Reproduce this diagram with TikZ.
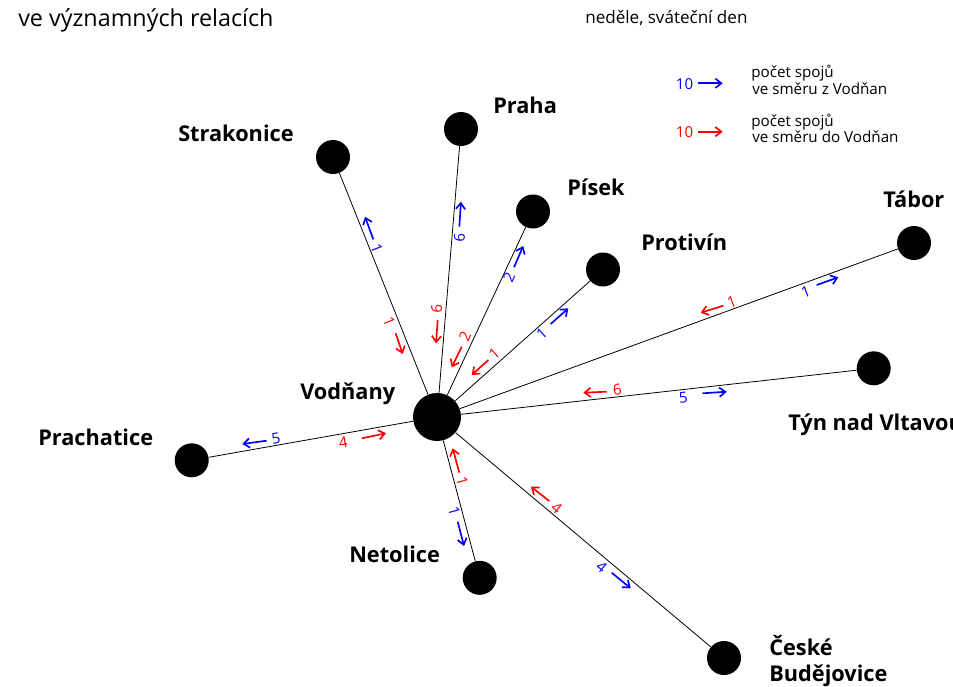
\documentclass[tikz,border=0pt]{standalone}
\usepackage{fontspec}
\setmainfont{Open Sans}
\usetikzlibrary{arrows.meta}
\definecolor{fblue}{RGB}{0,0,255}
\definecolor{fred}{RGB}{255,0,0}
\tikzset{
  hub/.style={circle,fill=black,minimum size=36pt,inner sep=0pt},
  stop/.style={circle,fill=black,minimum size=25.5pt,inner sep=0pt},
  edge/.style={draw=black,line width=0.6pt},
  city/.style={anchor=base west,inner sep=0pt,font=\fontsize{16.3}{20}\selectfont\bfseries},
  num/.style={inner sep=0pt,font=\fontsize{11.3}{13}\selectfont},
  farr/.style={line width=1.25pt,-{Straight Barb[length=4.5pt,width=7pt]}},
  legtxt/.style={anchor=base west,inner sep=0pt,font=\fontsize{11.4}{13}\selectfont},
}
\begin{document}
\begin{tikzpicture}[x=0.75pt,y=-0.75pt]
\useasboundingbox (0,0) rectangle (953,686);
% titles
\node[anchor=base west,inner sep=0pt,font=\fontsize{17.5}{20}\selectfont] (title) at (18,26) {ve významných relacích};
\node[anchor=base west,inner sep=0pt,font=\fontsize{12.8}{15}\selectfont] (day) at (585,23) {neděle, sváteční den};
% legend
\node[num,anchor=base west,text=fblue] (lb10) at (675.7,89.3) {10};
\coordinate (lbA) at (697.7,83.3);
\coordinate (lbB) at (722.7,83.3);
\draw[farr,fblue] (lbA) -- (lbB);
\node[legtxt] (lb1) at (751,77.5) {počet spojů};
\node[legtxt] (lb2) at (752,94.3) {ve směru z Vodňan};
\node[num,anchor=base west,text=fred] (lr10) at (675.7,137.3) {10};
\coordinate (lrA) at (697.7,131.7);
\coordinate (lrB) at (722.7,131.7);
\draw[farr,fred] (lrA) -- (lrB);
\node[legtxt] (lr1) at (751,126) {počet spojů};
\node[legtxt] (lr2) at (752,142.7) {ve směru do Vodňan};
% stops
\node[hub] (V) at (437,417) {};
\node[stop] (S) at (333,157) {};
\node[stop] (P) at (461,129) {};
\node[stop] (Pi) at (533,211.5) {};
\node[stop] (Pr) at (603,269.5) {};
\node[stop] (T) at (914,243) {};
\node[stop] (Ty) at (873.7,368.3) {};
\node[stop] (Pc) at (191.7,460.3) {};
\node[stop] (N) at (479.7,577.8) {};
\node[stop] (CB) at (724,658) {};
% edges
\foreach \d in {S,P,Pi,Pr,T,Ty,Pc,N,CB} \draw[edge] (V) -- (\d);
% city names
\node[city] (nS) at (178,141) {Strakonice};
\node[city] (nP) at (493,113) {Praha};
\node[city] (nPi) at (567,195) {Písek};
\node[city] (nPr) at (641,250) {Protivín};
\node[city] (nT) at (883,207) {Tábor};
\node[city] (nTy) at (788,430) {Týn nad Vltavou};
\node[city] (nPc) at (38,445) {Prachatice};
\node[city] (nV) at (300,399) {Vodňany};
\node[city] (nN) at (349,562) {Netolice};
\node[city] (nCB1) at (769,655.5) {České};
\node[city] (nCB2) at (769,681.5) {Budějovice};
% flows: Strakonice
\node[num,text=fblue,rotate=-68.7] (fS1) at (376.7,248.3) {1};
\draw[farr,fblue] (373.3,239.3) -- (365,216.7);
\node[num,text=fred,rotate=-68.7] (fS2) at (389.3,321.7) {1};
\draw[farr,fred] (395.7,333.3) -- (402.7,354);
% Praha
\node[num,text=fblue,rotate=84.7] (fP1) at (459.3,237.7) {6};
\draw[farr,fblue] (459.3,226.7) -- (461,201.7);
\node[num,text=fred,rotate=84.7] (fP2) at (436.7,309) {6};
\draw[farr,fred] (437.7,320) -- (436,343.3);
% Pisek
\node[num,text=fblue,rotate=64.9] (fPi1) at (509,277.3) {2};
\draw[farr,fblue] (514,267.3) -- (523.3,246);
\node[num,text=fred,rotate=64.9] (fPi2) at (465,336.7) {2};
\draw[farr,fred] (461.7,346.7) -- (451.7,367.3);
% Protivin
\node[num,text=fblue,rotate=41.7] (fPr1) at (541.7,333.3) {1};
\draw[farr,fblue] (550.7,324) -- (568.3,308.3);
\node[num,text=fred,rotate=41.7] (fPr2) at (494.3,353.3) {1};
\draw[farr,fred] (488.3,360) -- (471.7,375);
% Tabor
\node[num,text=fblue,rotate=20.1] (fT1) at (805.7,291.7) {1};
\draw[farr,fblue] (816.7,285) -- (838.3,277.3);
\node[num,text=fred,rotate=20.1] (fT2) at (731.7,301.7) {1};
\draw[farr,fred] (723.3,305.7) -- (700.7,312.7);
% Tyn
\node[num,text=fred,rotate=6.5] (fTy2) at (617.3,389.3) {6};
\draw[farr,fred] (606.7,391.7) -- (583.3,392.7);
\node[num,text=fblue,rotate=6.5] (fTy1) at (683.3,397.3) {5};
\draw[farr,fblue] (702.7,393.3) -- (726.7,391.7);
% Prachatice
\node[num,text=fblue,rotate=9.8] (fPc1) at (276,438.7) {5};
\draw[farr,fblue] (266.7,440.7) -- (242.3,444);
\node[num,text=fred,rotate=9.8] (fPc2) at (343.3,442.3) {4};
\draw[farr,fred] (361.7,438.3) -- (386,433.3);
% Netolice
\node[num,text=fred,rotate=-74.5] (fN2) at (462.3,481.7) {1};
\draw[farr,fred] (459.3,472.7) -- (452.7,448.3);
\node[num,text=fblue,rotate=-74.5] (fN1) at (454.3,511) {1};
\draw[farr,fblue] (457.7,521.7) -- (464,546);
% Ceske Budejovice
\node[num,text=fred,rotate=-39.7] (fCB2) at (556.7,508.3) {4};
\draw[farr,fred] (549.3,501) -- (531,486.7);
\node[num,text=fblue,rotate=-39.7] (fCB1) at (601.7,566.7) {4};
\draw[farr,fblue] (611.7,572.7) -- (630.7,588.3);
\end{tikzpicture}
\end{document}
